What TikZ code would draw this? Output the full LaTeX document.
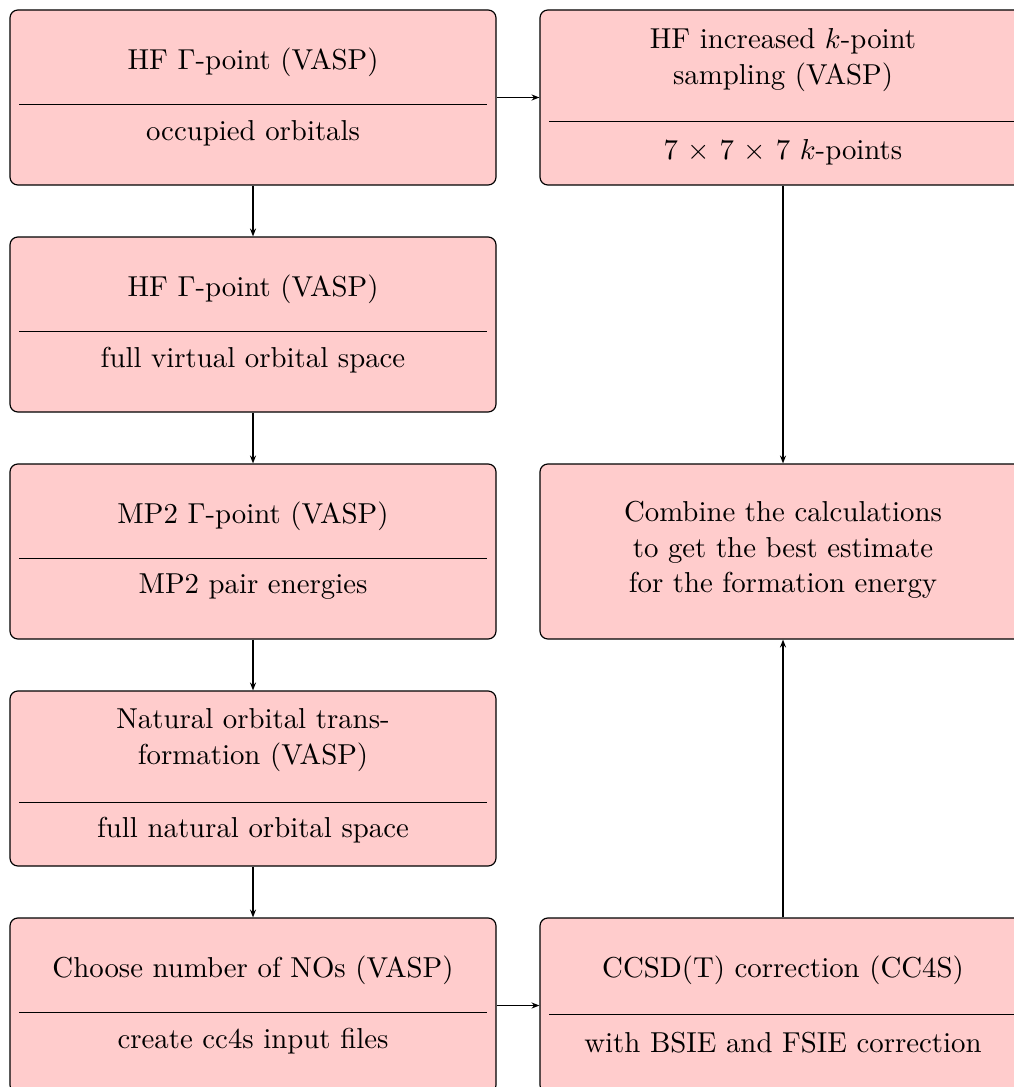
\documentclass[tikz,border=0pt]{standalone}
\usetikzlibrary{arrows.meta,calc}
\begin{document}
\begin{tikzpicture}[x=0.38pt,y=-0.38pt,
  box/.style={draw=black, fill=red!20, rounded corners=3pt, minimum width=184.68pt, minimum height=66.5pt, inner sep=0pt, line width=0.45pt},
  txt/.style={align=center, font=\fontsize{10.95}{13.6}\selectfont, inner sep=0pt},
  div/.style={draw=black, line width=0.45pt},
  arr/.style={-{Stealth[length=3pt,width=2.3pt]}, line width=0.45pt}]
\useasboundingbox (0,0) rectangle (1013,1087);
% left column
\node[box] (b1) at (253,97.5) {};
\node[txt] (b1t) at (253,62) {HF $\Gamma$-point (VASP)};
\node[txt] (b1b) at (253,133) {occupied orbitals};
\draw[div] ($(b1.north west)+(10,95)$) -- ($(b1.north east)+(-10,95)$);

\node[box] (b2) at (253,324.5) {};
\node[txt] (b2t) at (253,289) {HF $\Gamma$-point (VASP)};
\node[txt] (b2b) at (253,360) {full virtual orbital space};
\draw[div] ($(b2.north west)+(10,95)$) -- ($(b2.north east)+(-10,95)$);

\node[box] (b3) at (253,551.5) {};
\node[txt] (b3t) at (253,516) {MP2 $\Gamma$-point (VASP)};
\node[txt] (b3b) at (253,587) {MP2 pair energies};
\draw[div] ($(b3.north west)+(10,95)$) -- ($(b3.north east)+(-10,95)$);

\node[box] (b4) at (253,778.5) {};
\node[txt] (b4t) at (253,740) {Natural orbital trans-\\formation (VASP)};
\node[txt] (b4b) at (253,830) {full natural orbital space};
\draw[div] ($(b4.north west)+(10,112)$) -- ($(b4.north east)+(-10,112)$);

\node[box] (b5) at (253,1005.5) {};
\node[txt] (b5t) at (253,970) {Choose number of NOs (VASP)};
\node[txt] (b5b) at (253,1041) {create cc4s input files};
\draw[div] ($(b5.north west)+(10,95)$) -- ($(b5.north east)+(-10,95)$);

% right column
\node[box] (r1) at (783,97.5) {};
\node[txt] (r1t) at (783,60) {HF increased $k$-point\\sampling (VASP)};
\node[txt] (r1b) at (783,152) {7 $\times$ 7 $\times$ 7 $k$-points};
\draw[div] ($(r1.north west)+(10,112)$) -- ($(r1.north east)+(-10,112)$);

\node[box] (r3) at (783,551.5) {};
\node[txt] (r3t) at (783,550) {Combine the calculations\\to get the best estimate\\for the formation energy};

\node[box] (r5) at (783,1005.5) {};
\node[txt] (r5t) at (783,970) {CCSD(T) correction (CC4S)};
\node[txt] (r5b) at (783,1043) {with BSIE and FSIE correction};
\draw[div] ($(r5.north west)+(10,97)$) -- ($(r5.north east)+(-10,97)$);

% connectors
\draw[arr] (b1) -- (r1);
\draw[arr] (b1.south) -- (b2.north);
\draw[arr] (b2.south) -- (b3.north);
\draw[arr] (b3.south) -- (b4.north);
\draw[arr] (b4.south) -- (b5.north);
\draw[arr] (b5) -- (r5);
\draw[arr] (r1.south) -- (r3.north);
\draw[arr] (r5.north) -- (r3.south);
\end{tikzpicture}
\end{document}
